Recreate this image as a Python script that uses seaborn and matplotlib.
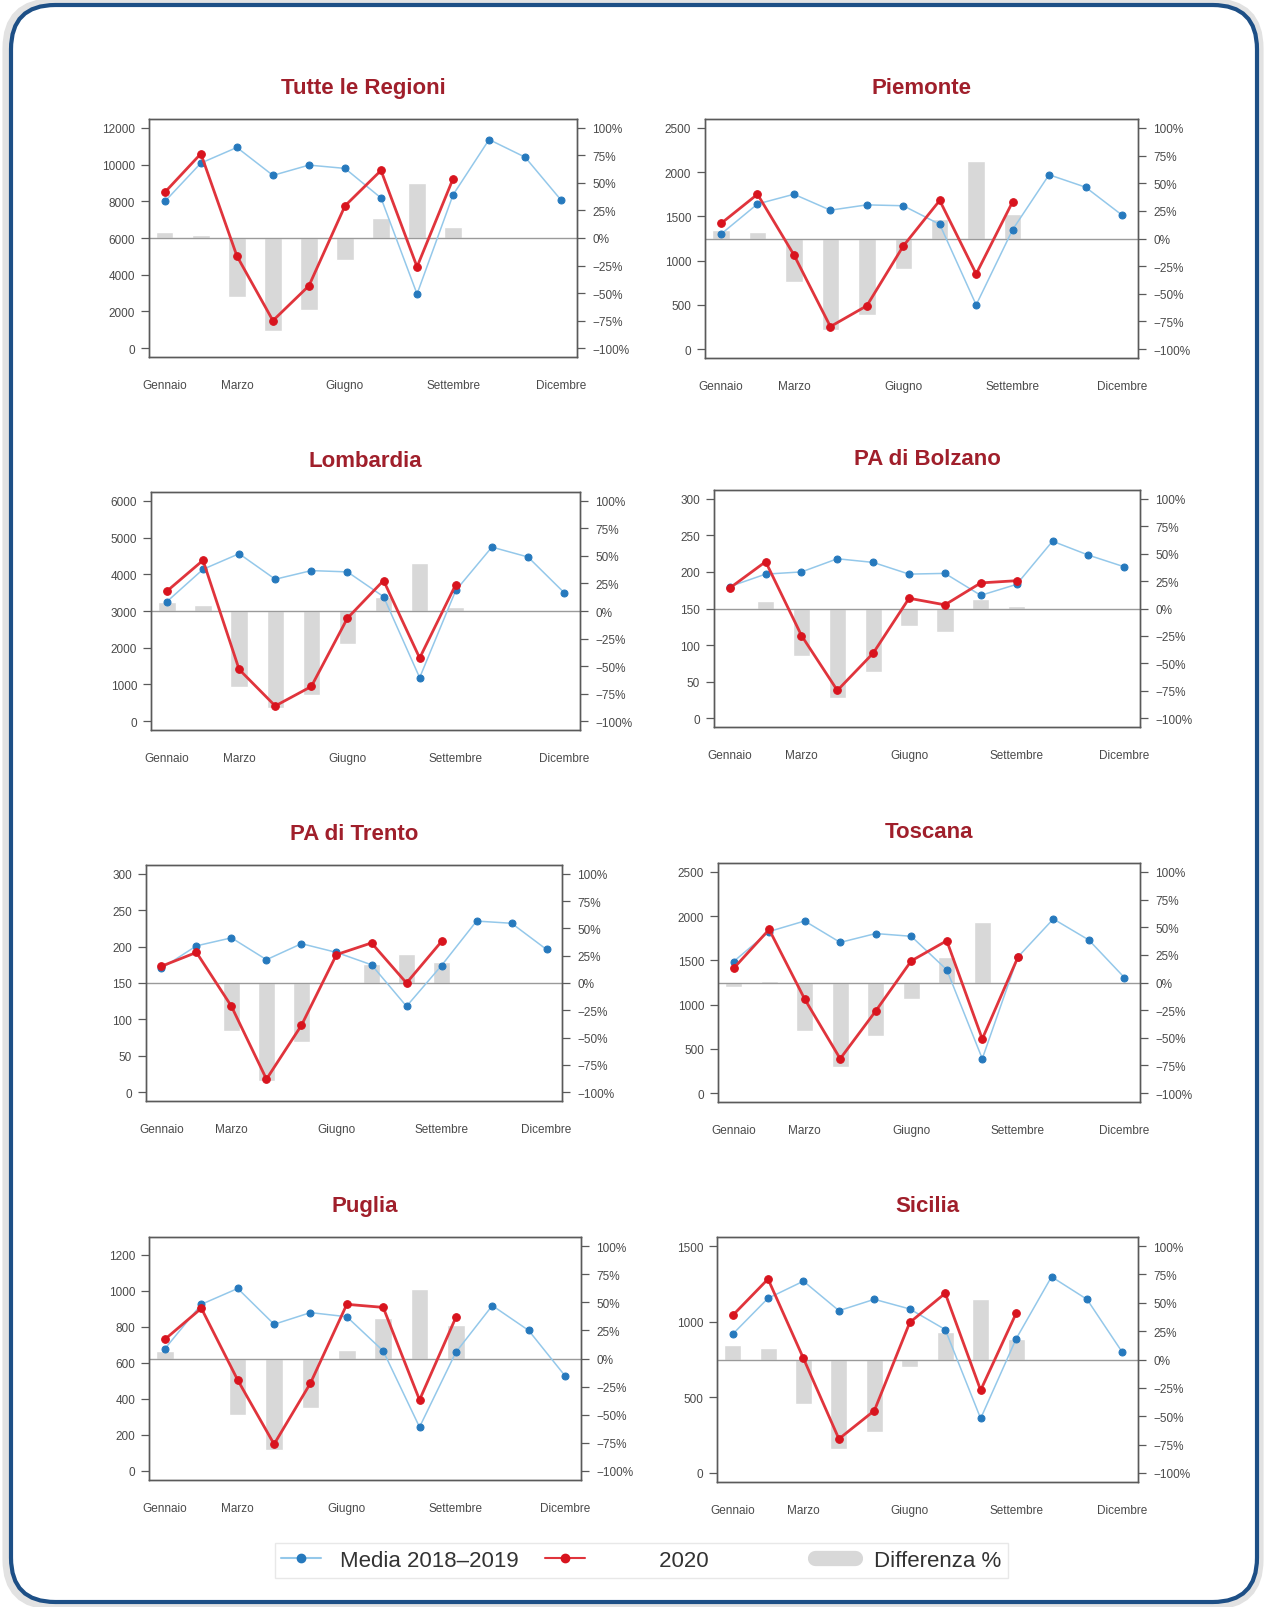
import numpy as np
import pandas as pd
import seaborn as sns
import matplotlib.pyplot as plt
from matplotlib.patches import FancyBboxPatch
from matplotlib.lines import Line2D

# Decessi mensili: media 2018-2019, anno 2020 e differenza percentuale

mesi = ["Gennaio", "Febbraio", "Marzo", "Aprile", "Maggio", "Giugno",
        "Luglio", "Agosto", "Settembre", "Ottobre", "Novembre", "Dicembre"]
mesi_tick = [1, 3, 6, 9, 12]

regioni = ["Tutte le Regioni", "Piemonte", "Lombardia", "PA di Bolzano",
           "PA di Trento", "Toscana", "Puglia", "Sicilia"]

media_tutte = [7990, 10080, 10930, 9410, 9970, 9790, 8180, 2950, 8350, 11360, 10400, 8060]
anno2020_tutte = [8490, 10590, 5020, 1500, 3400, 7750, 9680, 4430, 9230]
diff_tutte = [5, 3, -54, -84, -65, -20, 18, 50, 10]

media_piemonte = [1300, 1640, 1750, 1570, 1630, 1620, 1410, 500, 1350, 1970, 1830, 1515]
anno2020_piemonte = [1420, 1750, 1065, 255, 490, 1165, 1680, 850, 1665]
diff_piemonte = [8, 6, -39, -83, -69, -28, 18, 70, 22]

media_lombardia = [3255, 4135, 4560, 3865, 4100, 4065, 3390, 1185, 3560, 4740, 4470, 3500]
anno2020_lombardia = [3540, 4380, 1410, 415, 945, 2805, 3830, 1720, 3720]
diff_lombardia = [8, 5, -69, -88, -76, -30, 13, 44, 4]

media_bolzano = [180, 197, 200, 218, 213, 197, 198, 168, 183, 242, 223, 207]
anno2020_bolzano = [178, 214, 113, 38, 89, 164, 155, 185, 188]
diff_bolzano = [-1, 7, -43, -82, -58, -16, -21, 9, 2]

media_trento = [170, 201, 212, 182, 204, 192, 175, 118, 174, 235, 232, 196]
anno2020_trento = [173, 192, 118, 18, 92, 189, 205, 150, 207]
diff_trento = [1, -1, -44, -90, -54, -1, 17, 27, 19]

media_toscana = [1487, 1826, 1945, 1703, 1803, 1772, 1394, 389, 1537, 1968, 1730, 1306]
anno2020_toscana = [1410, 1849, 1063, 389, 928, 1494, 1722, 612, 1533]
diff_toscana = [-4, 1, -44, -76, -48, -15, 23, 55, 0]

media_puglia = [680, 926, 1014, 815, 880, 857, 667, 244, 660, 919, 781, 529]
anno2020_puglia = [732, 904, 505, 149, 488, 926, 909, 395, 854]
diff_puglia = [7, -1, -50, -81, -44, 8, 36, 62, 30]

media_sicilia = [917, 1155, 1268, 1073, 1148, 1084, 948, 360, 886, 1297, 1148, 797]
anno2020_sicilia = [1041, 1282, 757, 225, 412, 995, 1188, 547, 1055]
diff_sicilia = [13, 10, -39, -79, -64, -7, 24, 53, 18]

media_all = [media_tutte, media_piemonte, media_lombardia, media_bolzano,
             media_trento, media_toscana, media_puglia, media_sicilia]
anno2020_all = [anno2020_tutte, anno2020_piemonte, anno2020_lombardia, anno2020_bolzano,
                anno2020_trento, anno2020_toscana, anno2020_puglia, anno2020_sicilia]
diff_all = [diff_tutte, diff_piemonte, diff_lombardia, diff_bolzano,
            diff_trento, diff_toscana, diff_puglia, diff_sicilia]

# valore dell'asse sinistro che corrisponde a +100%
asse_max = [12000, 2500, 6000, 300, 300, 2500, 1250, 1500]
asse_step = [2000, 500, 1000, 50, 50, 500, 200, 500]
asse_tick_max = [12000, 2500, 6000, 300, 300, 2500, 1200, 1500]

pct_ticks = [100, 75, 50, 25, 0, -25, -50, -75, -100]
pct_labels = ["100%", "75%", "50%", "25%", "0%", "\u221225%", "\u221250%", "\u221275%", "\u2212100%"]

# posizione dei pannelli in pixel (x0, x1, y0, y1) sulla figura 1265x1608
W, H = 1265, 1608
boxes = [(149, 577, 120, 358), (705, 1138, 120, 359),
         (151, 580, 493, 731), (714, 1140, 491, 728),
         (146, 562, 866, 1102), (718, 1140, 864, 1103),
         (149, 581, 1238, 1481), (717, 1138, 1238, 1483)]

BLU_LINEA = "#94c8ea"
BLU_PUNTO = "#2679bd"
ROSSO = "#e0343c"
ROSSO_PUNTO = "#d8141e"
GRIGIO_BARRE = "#d8d8d8"
TITOLO = "#a01f2b"
TESTO = "#4a4a4a"

sns.set_style("white")
plt.rcParams["font.family"] = ["Liberation Sans", "DejaVu Sans"]

fig = plt.figure(figsize=(W / 100, H / 100), dpi=100)

# cornice arrotondata (dietro ai grafici)
shadow = FancyBboxPatch((8 / W, 3 / H), 1250 / W, 1600 / H,
                        boxstyle="round,pad=0,rounding_size=0.035",
                        transform=fig.transFigure, facecolor="none",
                        edgecolor="#e2e2e2", linewidth=8, zorder=-6,
                        mutation_aspect=W / H)
fig.patches.append(shadow)
frame = FancyBboxPatch((11 / W, 5 / H), 1246 / W, 1597 / H,
                       boxstyle="round,pad=0,rounding_size=0.035",
                       transform=fig.transFigure, facecolor="white",
                       edgecolor="#1d4f86", linewidth=3, zorder=-5,
                       mutation_aspect=W / H)
fig.patches.append(frame)

for i, nome in enumerate(regioni):
    x0, x1, y0, y1 = boxes[i]
    rect = [x0 / W, 1 - y1 / H, (x1 - x0) / W, (y1 - y0) / H]
    ax = fig.add_axes(rect)
    ax2 = ax.twinx()

    n20 = len(anno2020_all[i])
    df_bar = pd.DataFrame({"mese": np.arange(1, n20 + 1), "diff": diff_all[i]})
    df_media = pd.DataFrame({"mese": np.arange(1, 13), "val": media_all[i]})
    df_2020 = pd.DataFrame({"mese": np.arange(1, n20 + 1), "val": anno2020_all[i]})

    # barre della differenza % (asse destro)
    sns.barplot(data=df_bar, x="mese", y="diff", ax=ax, native_scale=True,
                width=0.48, color=GRIGIO_BARRE, saturation=1, zorder=1)
    ax.axhline(0, color="#9a9a9a", lw=1.0, zorder=2)
    ax.set_ylim(-108, 108)
    ax.set_yticks(pct_ticks)
    ax.set_yticklabels(pct_labels)
    ax.yaxis.tick_right()
    ax.set_ylabel("")
    ax.set_xlabel("")

    # linee (asse sinistro)
    sns.lineplot(data=df_media, x="mese", y="val", ax=ax2, color=BLU_LINEA,
                 linewidth=1.1, marker="o", markersize=5,
                 markerfacecolor=BLU_PUNTO, markeredgecolor=BLU_PUNTO, zorder=3)
    sns.lineplot(data=df_2020, x="mese", y="val", ax=ax2, color=ROSSO,
                 linewidth=2.0, marker="o", markersize=5.5,
                 markerfacecolor=ROSSO_PUNTO, markeredgecolor=ROSSO_PUNTO, zorder=4)
    top = asse_max[i]
    ax2.set_ylim(-0.04 * top, 1.04 * top)
    ax2.set_yticks(np.arange(0, asse_tick_max[i] + 1, asse_step[i]))
    ax2.yaxis.tick_left()
    ax2.set_ylabel("")
    ax2.set_xlabel("")

    ax.set_xlim(1 - 0.44, 12 + 0.44)
    ax.set_xticks(mesi_tick)
    ax.set_xticklabels([mesi[m - 1] for m in mesi_tick])

    for a in (ax, ax2):
        for s in a.spines.values():
            s.set_color("#5a5a5a")
            s.set_linewidth(1.0)
        a.tick_params(axis="both", which="both", length=6, width=0.9,
                      color="#5a5a5a", labelcolor=TESTO, labelsize=8.5, pad=4)
    ax.tick_params(axis="x", pad=10)
    ax.tick_params(axis="y", labelsize=8.5, pad=5)

    ax2.set_title(nome, color=TITOLO, fontsize=16, fontweight="bold", pad=19,
                  family=["Liberation Sans Narrow", "Liberation Sans", "DejaVu Sans"])

handles = [
    Line2D([], [], color=BLU_LINEA, lw=1.5, marker="o", markersize=6,
           markerfacecolor=BLU_PUNTO, markeredgecolor=BLU_PUNTO),
    Line2D([], [], color=ROSSO, lw=1.5, marker="o", markersize=6,
           markerfacecolor=ROSSO_PUNTO, markeredgecolor=ROSSO_PUNTO),
    Line2D([], [], color=GRIGIO_BARRE, lw=11, solid_capstyle="round"),
]
etichette = ["Media 2018\u20132019", "         2020             ", "Differenza %"]
leg = fig.legend(handles, etichette,
                 loc="center", bbox_to_anchor=(0.507, 0.029), ncol=3,
                 fontsize=16, frameon=True, fancybox=False, handlelength=1.8,
                 columnspacing=1.2, handletextpad=0.85, borderpad=0.3)
leg.get_frame().set_edgecolor("#e3e3e3")
leg.get_frame().set_linewidth(1.0)
for t in leg.get_texts():
    t.set_color("#333333")

fig.savefig("out.png", dpi=100)
